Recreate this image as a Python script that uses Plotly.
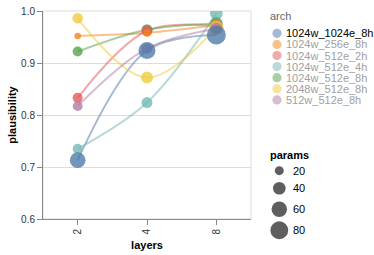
import math
import plotly.graph_objects as go

# ---------------- data ----------------
layers = ["2", "4", "8"]
archs = ["1024w_1024e_8h", "1024w_256e_8h", "1024w_512e_2h", "1024w_512e_4h",
         "1024w_512e_8h", "2048w_512e_8h", "512w_512e_8h"]
colors = ["#4c78a8", "#f58518", "#e45756", "#72b7b2", "#54a24b", "#eeca3b", "#b279a2"]

plaus_1024w_1024e_8h = [0.713, 0.924, 0.954]
plaus_1024w_256e_8h = [0.952, 0.958, 0.973]
plaus_1024w_512e_2h = [0.833, 0.962, 0.971]
plaus_1024w_512e_4h = [0.735, 0.824, 0.995]
plaus_1024w_512e_8h = [0.922, 0.964, 0.976]
plaus_2048w_512e_8h = [0.986, 0.872, 0.968]
plaus_512w_512e_8h = [0.817, 0.928, 0.966]

params_1024w_1024e_8h = [62, 72, 90]
params_1024w_256e_8h = [11, 15, 22]
params_1024w_512e_2h = [25, 30, 40]
params_1024w_512e_4h = [25, 30, 40]
params_1024w_512e_8h = [25, 30, 40]
params_2048w_512e_8h = [28, 36, 50]
params_512w_512e_8h = [24, 28, 35]

size_legend_values = [20, 40, 60, 80]
y_ticks = [0.6, 0.7, 0.8, 0.9, 1.0]

plaus_all = [plaus_1024w_1024e_8h, plaus_1024w_256e_8h, plaus_1024w_512e_2h,
             plaus_1024w_512e_4h, plaus_1024w_512e_8h, plaus_2048w_512e_8h,
             plaus_512w_512e_8h]
params_all = [params_1024w_1024e_8h, params_1024w_256e_8h, params_1024w_512e_2h,
              params_1024w_512e_4h, params_1024w_512e_8h, params_2048w_512e_8h,
              params_512w_512e_8h]

# ---------------- geometry ----------------
W, H = 374, 255
PL, PR, PT, PB = 43, 251, 11, 219
PW, PH = PR - PL, PB - PT
SIZE_K = 2.0  # diameter = K*sqrt(params)


def sz(p):
    return SIZE_K * math.sqrt(p)


def px_x(px):
    return (px - PL) / PW


def px_y(py):
    return (PB - py) / PH


FONT = "Liberation Sans, Arial, sans-serif"

fig = go.Figure()

# lines
for name, col, ys in zip(archs, colors, plaus_all):
    fig.add_trace(go.Scatter(
        x=layers, y=ys, mode="lines", name=name, opacity=0.5,
        line=dict(color=col, width=2, shape="spline", smoothing=1),
        hoverinfo="skip", showlegend=False))

# points, drawn from highest to lowest plausibility
pts = []
for name, col, ys, ps in zip(archs, colors, plaus_all, params_all):
    for lx, yv, pv in zip(layers, ys, ps):
        pts.append((yv, lx, pv, col, name))
pts.sort(key=lambda t: -t[0])
fig.add_trace(go.Scatter(
    x=[p[1] for p in pts], y=[p[0] for p in pts], mode="markers",
    text=[p[4] for p in pts],
    marker=dict(size=[sz(p[2]) for p in pts], color=[p[3] for p in pts],
                opacity=0.78, line=dict(width=0)),
    showlegend=False))

shapes = [dict(type="rect", xref="paper", yref="paper", x0=0, x1=1, y0=0, y1=1,
               line=dict(color="#dddddd", width=1), layer="below")]
annotations = []

# arch legend
annotations.append(dict(text="arch", xref="paper", yref="paper", x=px_x(268), y=px_y(16),
                        xanchor="left", yanchor="middle", showarrow=False,
                        font=dict(family=FONT, size=11, color="#666666")))
for i, (name, col) in enumerate(zip(archs, colors)):
    cy = 33.3 + i * 11.1
    r = 4.6
    shapes.append(dict(type="circle", xref="paper", yref="paper",
                       xsizemode="pixel", ysizemode="pixel",
                       xanchor=px_x(277), yanchor=px_y(cy),
                       x0=-r, x1=r, y0=-r, y1=r,
                       fillcolor=col, opacity=0.5, line=dict(width=0)))
    annotations.append(dict(text=name, xref="paper", yref="paper", x=px_x(284), y=px_y(cy),
                            xanchor="left", yanchor="middle", showarrow=False,
                            font=dict(family=FONT, size=11,
                                      color="#000000" if i == 0 else "#a0a0a0")))

# params legend
annotations.append(dict(text="params", xref="paper", yref="paper", x=px_x(268), y=px_y(155),
                        xanchor="left", yanchor="middle", showarrow=False,
                        font=dict(family=FONT, size=11, color="#000000", weight="bold")))
size_y = [170.7, 188.3, 209.3, 230.3]
for v, cy in zip(size_legend_values, size_y):
    r = sz(v) / 2
    shapes.append(dict(type="circle", xref="paper", yref="paper",
                       xsizemode="pixel", ysizemode="pixel",
                       xanchor=px_x(279.3), yanchor=px_y(cy),
                       x0=-r, x1=r, y0=-r, y1=r,
                       fillcolor="#555555", opacity=0.95, line=dict(width=0)))
    annotations.append(dict(text=str(v), xref="paper", yref="paper", x=px_x(291), y=px_y(cy),
                            xanchor="left", yanchor="middle", showarrow=False,
                            font=dict(family=FONT, size=11, color="#000000")))

fig.update_layout(
    width=W, height=H,
    margin=dict(l=PL, r=W - PR, t=PT, b=H - PB, pad=0),
    paper_bgcolor="white", plot_bgcolor="white",
    font=dict(family=FONT, size=10, color="#333333"),
    shapes=shapes, annotations=annotations,
    xaxis=dict(type="category", categoryorder="array", categoryarray=layers,
               range=[-0.5, 2.5], tickangle=-90, ticks="outside", ticklen=5,
               tickcolor="#888888", showline=True, linecolor="#888888", linewidth=1,
               showgrid=False, zeroline=False, automargin=False,
               tickfont=dict(family=FONT, size=10, color="#333333"),
               title=dict(text="layers", standoff=7,
                          font=dict(family=FONT, size=11, color="#000000", weight="bold"))),
    yaxis=dict(range=[0.6, 1.0], tickvals=y_ticks, tickformat=".1f", ticks="outside",
               ticklen=5, tickcolor="#888888", showline=True, linecolor="#888888",
               linewidth=1, showgrid=True, gridcolor="#dddddd", gridwidth=1,
               zeroline=False, automargin=False,
               tickfont=dict(family=FONT, size=10, color="#333333"),
               title=dict(text="plausibility", standoff=2,
                          font=dict(family=FONT, size=11, color="#000000", weight="bold"))),
)

fig.write_html("out.html", config={"displayModeBar": False},
               post_script="document.body.style.margin='0px';")
